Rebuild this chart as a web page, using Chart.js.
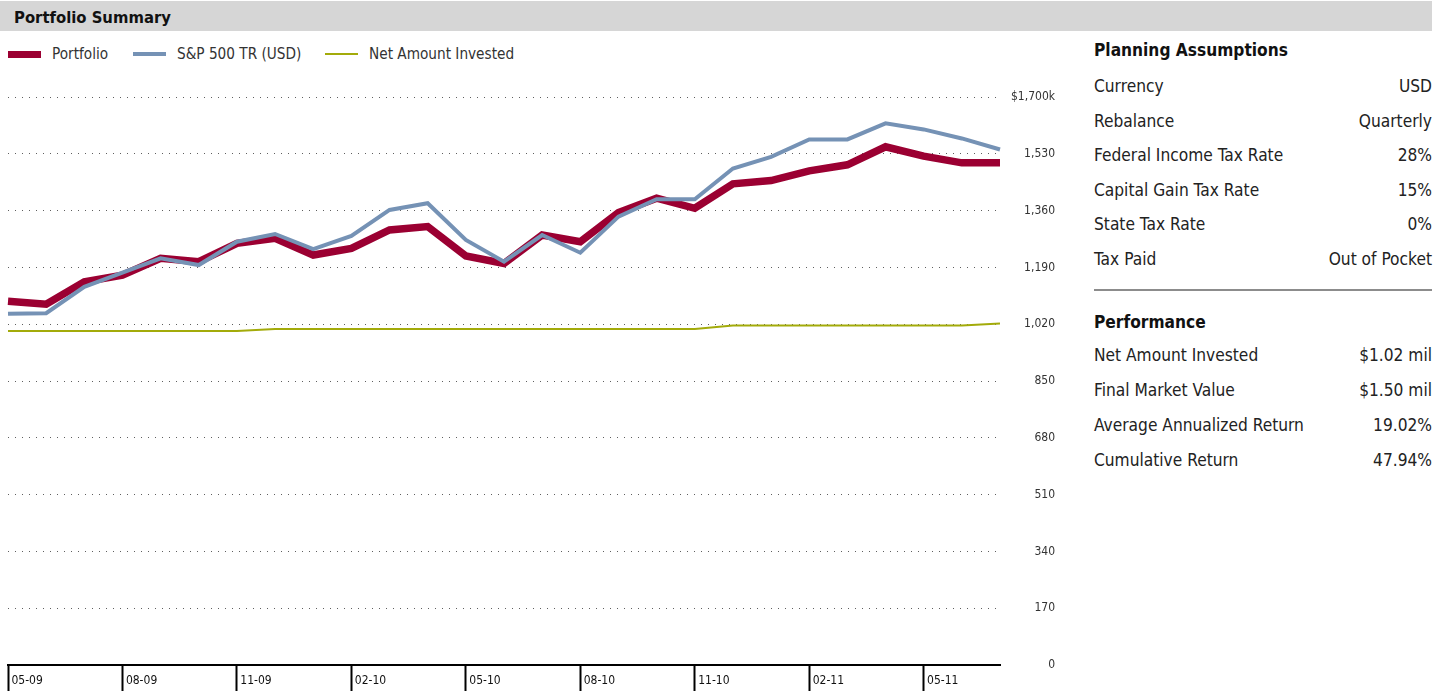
<!DOCTYPE html>
<html>
<head>
<meta charset="utf-8">
<script src="https://cdn.jsdelivr.net/npm/chart.js@4.4.1/dist/chart.umd.min.js"></script>
<style>
body{margin:0;width:1445px;height:691px;overflow:hidden;background:#fff;
font-family:"DejaVu Sans Condensed","Liberation Sans Narrow","Roboto",sans-serif;color:#222;}
#head{position:absolute;left:0;top:1px;width:1432px;height:30px;background:#d6d6d6;}
#head span{position:absolute;left:14px;top:7px;font-weight:bold;font-size:16.5px;color:#111;}
#legend{position:absolute;left:8px;top:44px;height:20px;font-size:15.2px;color:#333;}
.li{position:absolute;top:0;white-space:nowrap;line-height:20px;}
.sw{position:absolute;left:0;width:33px;}
.li span{position:absolute;left:44px;top:0;}
#wrap{position:absolute;left:0;top:60px;width:1055px;height:631px;}
#side{position:absolute;left:1094px;top:35px;width:338px;font-size:17.2px;}
.ttl{font-weight:bold;font-size:17.2px;height:30px;line-height:30px;color:#111;}
.row{height:34.5px;line-height:34.5px;display:flex;justify-content:space-between;}
.perf .row{height:35px;line-height:35px;}
.gap{height:4px;}
.rule{height:2px;background:#8c8c8c;margin:13px 0 16px 0;}
</style>
</head>
<body>
<div id="head"><span>Portfolio Summary</span></div>
<div id="legend"></div>
<div id="wrap"><canvas id="chart"></canvas></div>
<div id="side"></div>
<script>

/* DATA */

const months = ["05-09","06-09","07-09","08-09","09-09","10-09","11-09","12-09","01-10",
"02-10","03-10","04-10","05-10","06-10","07-10","08-10","09-10","10-10",
"11-10","12-10","01-11","02-11","03-11","04-11","05-11","06-11","07-11"];

const portfolio = [1089,1080,1147,1167,1217,1207,1262,1277,1227,1247,1302,1312,1224,1202,
1287,1267,1354,1397,1367,1440,1450,1479,1497,1551,1523,1503,1503];

const sp500 = [1051,1053,1132,1174,1217,1197,1267,1290,1245,1284,1362,1382,1272,1207,
1287,1234,1342,1394,1394,1486,1521,1573,1573,1621,1603,1576,1543];

const invested = [1000,1000,1000,1000,1000,1000,1000,1006,1006,1006,1006,1006,1006,1006,
1006,1006,1006,1006,1006,1016,1016,1016,1016,1016,1016,1016,1022];

const seriesNames = ["Portfolio","S&P 500 TR (USD)","Net Amount Invested"];

const planning = [
["Currency","USD"],
["Rebalance","Quarterly"],
["Federal Income Tax Rate","28%"],
["Capital Gain Tax Rate","15%"],
["State Tax Rate","0%"],
["Tax Paid","Out of Pocket"]
];

const performance = [
["Net Amount Invested","$1.02 mil"],
["Final Market Value","$1.50 mil"],
["Average Annualized Return","19.02%"],
["Cumulative Return","47.94%"]
];

const yMax = 1700;
const yStep = 170;

/* COLORS */

const maroon = "#9b0032";
const steel = "#7592b5";
const olive = "#a3ab0a";
const font = "'DejaVu Sans Condensed','Liberation Sans Narrow',Roboto,sans-serif";


/* LEGEND */

const legendItems = [
{name:seriesNames[0],color:maroon,h:7,x:0},
{name:seriesNames[1],color:steel,h:4,x:125},
{name:seriesNames[2],color:olive,h:2,x:317}
];

const legend = document.getElementById("legend");

legendItems.forEach(function(it){
let d = document.createElement("div");
d.className = "li";
d.style.left = it.x+"px";
d.innerHTML = '<div class="sw" style="height:'+it.h+'px;top:'+(10-it.h/2)+'px;background:'+it.color+'"></div><span></span>';
d.querySelector("span").textContent = it.name;
legend.appendChild(d);
});


/* SIDE PANEL */

const side = document.getElementById("side");

function addBlock(title,rows,cls){
let box = document.createElement("div");
box.className = cls;
let t = document.createElement("div");
t.className = "ttl";
t.textContent = title;
box.appendChild(t);
let g = document.createElement("div");
g.className = "gap";
box.appendChild(g);
rows.forEach(function(r){
let row = document.createElement("div");
row.className = "row";
let a = document.createElement("span");
a.textContent = r[0];
let b = document.createElement("span");
b.textContent = r[1];
row.appendChild(a);
row.appendChild(b);
box.appendChild(row);
});
side.appendChild(box);
}

addBlock("Planning Assumptions",planning,"plan");
let rule = document.createElement("div");
rule.className = "rule";
side.appendChild(rule);
addBlock("Performance",performance,"perf");
document.querySelector(".perf .gap").style.height = "1px";


/* CHART */

const ctx = document.getElementById("chart");

new Chart(ctx,{
type:"line",
data:{
labels:months,
datasets:[
{
label:seriesNames[1],
data:sp500,
borderColor:steel,
borderWidth:4,
order:0
},
{
label:seriesNames[0],
data:portfolio,
borderColor:maroon,
borderWidth:7.5,
order:1
},
{
label:seriesNames[2],
data:invested,
borderColor:olive,
borderWidth:2,
order:2
}
]
},
options:{
responsive:true,
maintainAspectRatio:false,
animation:false,
layout:{padding:{top:37,left:8,right:0,bottom:0}},
elements:{
point:{radius:0},
line:{tension:0,borderJoinStyle:"miter",borderCapStyle:"butt"}
},
plugins:{
legend:{display:false},
tooltip:{enabled:false}
},
scales:{
x:{
offset:false,
grid:{
drawOnChartArea:false,
drawTicks:true,
tickLength:26,
tickWidth:2,
tickColor:function(c){return c.index%3===0 ? "#000" : "rgba(0,0,0,0)";}
},
border:{display:true,color:"#000",width:2},
ticks:{
autoSkip:false,
maxRotation:0,
align:"start",
padding:-17,
color:"#111",
font:{family:font,size:12},
callback:function(v,i){return i%3===0 ? " "+months[i] : "";}
},
afterFit:function(s){s.height=26;}
},
y:{
position:"right",
min:0,
max:yMax,
grid:{
drawTicks:false,
color:"#5e5e5e",
lineWidth:1
},
border:{display:false,dash:[1,6]},
ticks:{
stepSize:yStep,
crossAlign:"far",
padding:11,
color:"#333",
font:{family:font,size:12},
callback:function(v){return v===yMax ? "$1,700k" : v.toLocaleString("en-US");}
},
afterFit:function(s){s.width=55;}
}
}
}
});

</script>
</body>
</html>
